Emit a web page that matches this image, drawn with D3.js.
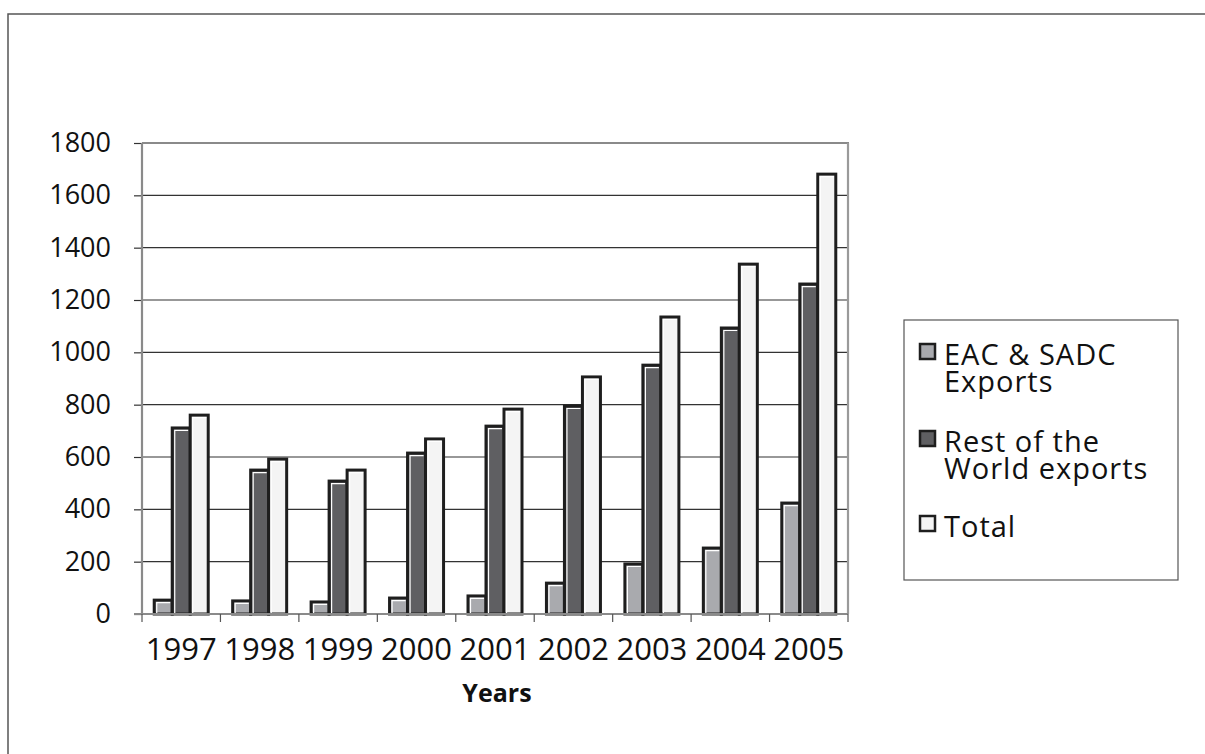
<!DOCTYPE html>
<html>
<head>
<meta charset="utf-8">
<script src="https://cdn.jsdelivr.net/npm/d3@7"></script>
<style>
  html, body { margin: 0; padding: 0; background: #fff; }
  svg { display: block; }
  text { font-family: "Open Sans", "DejaVu Sans", sans-serif; fill: #111; }
</style>
</head>
<body>
<svg id="chart" width="1205" height="754"></svg>
<script>
// ---- data ----
const years = ["1997","1998","1999","2000","2001","2002","2003","2004","2005"];
const eacSadc = [53, 50, 46, 61, 69, 118, 191, 252, 424];
const restOfWorld = [711, 550, 508, 615, 718, 795, 951, 1093, 1261];
const total = [760, 592, 550, 669, 783, 906, 1135, 1337, 1681];
const yTicks = [0, 200, 400, 600, 800, 1000, 1200, 1400, 1600, 1800];
const seriesNames = [["EAC & SADC", "Exports"], ["Rest of the", "World exports"], ["Total"]];
const seriesColors = ["#a9aaae", "#5f5f62", "#f4f4f4"];
const xTitle = "Years";

// ---- layout ----
const svg = d3.select("#chart");
const L = 142, R = 848, T = 143, B = 614;

// outer frame
svg.append("rect").attr("x", 8).attr("y", 14).attr("width", 1210).attr("height", 800)
  .attr("fill", "none").attr("stroke", "#555").attr("stroke-width", 1.5);

const x = d3.scaleBand().domain(years).range([L, R]).paddingInner(0).paddingOuter(0);
const y = d3.scaleLinear().domain([0, 1800]).range([B, T]);

// y axis ticks + labels
const yAxis = d3.axisLeft(y).tickValues(yTicks).tickSize(8).tickPadding(23).tickFormat(d3.format("d"));
const gy = svg.append("g").attr("transform", `translate(${L},0)`).call(yAxis);
gy.select(".domain").remove();
gy.selectAll(".tick line").attr("stroke", "#333").attr("stroke-width", 1.2);
gy.selectAll(".tick text").style("font-size", "27px").attr("fill", "#111")
  .attr("font-family", "Open Sans, DejaVu Sans, sans-serif");

// gridlines
svg.append("g").selectAll("line").data(yTicks.filter(d => d > 0 && d < 1800)).join("line")
  .attr("x1", L).attr("x2", R).attr("y1", d => y(d)).attr("y2", d => y(d))
  .attr("stroke", "#333").attr("stroke-width", 1.2);

// frame top and right (gray)
svg.append("line").attr("x1", L).attr("x2", R + 1).attr("y1", y(1800)).attr("y2", y(1800))
  .attr("stroke", "#8a8a8a").attr("stroke-width", 2.2);
svg.append("line").attr("x1", R).attr("x2", R).attr("y1", y(1800)).attr("y2", y(0))
  .attr("stroke", "#9a9a9a").attr("stroke-width", 2.2);
// left axis line
svg.append("line").attr("x1", L).attr("x2", L).attr("y1", y(1800)).attr("y2", y(0))
  .attr("stroke", "#8a8a8a").attr("stroke-width", 2.2);

// bars
const series = [eacSadc, restOfWorld, total];
const barW = 18, step = 18;
series.forEach((vals, si) => {
  const g = svg.append("g");
  const bx = (d, i) => x(years[i]) + x.bandwidth() / 2 - 27 + step * si;
  g.selectAll("rect").data(vals).join("rect")
    .attr("x", (d, i) => bx(d, i))
    .attr("y", d => y(d))
    .attr("width", barW)
    .attr("height", d => y(0) - y(d))
    .attr("fill", seriesColors[si])
    .attr("stroke", "#1e1e1e").attr("stroke-width", 3);
  // bevel highlight
  g.selectAll("path").data(vals).join("path")
    .attr("d", (d, i) => {
      const x0 = bx(d, i) + 2.5, y0 = y(d) + 2.5;
      return `M${x0},${y(0) - 1}V${y0}H${bx(d, i) + barW - 2}`;
    })
    .attr("fill", "none").attr("stroke", "#fff").attr("stroke-width", 1.2);
});

// bottom axis
const xAxis = d3.axisBottom(x).tickSize(0).tickPadding(24);
const gx = svg.append("g").attr("transform", `translate(0,${B})`).call(xAxis);
gx.select(".domain").attr("stroke", "#8a8a8a").attr("stroke-width", 2).attr("d", `M${L - 8},0H${R}`);
gx.selectAll(".tick text").style("font-size", "31px").attr("fill", "#111")
  .attr("font-family", "Open Sans, DejaVu Sans, sans-serif");
// category boundary ticks
svg.append("g").selectAll("line").data(years.concat(["end"])).join("line")
  .attr("x1", (d, i) => i < years.length ? x(d) : R)
  .attr("x2", (d, i) => i < years.length ? x(d) : R)
  .attr("y1", B).attr("y2", B + 8)
  .attr("stroke", "#555").attr("stroke-width", 1.2);

// x title
svg.append("text").attr("x", (L + R) / 2 + 2).attr("y", 702).attr("text-anchor", "middle")
  .style("font-size", "25px").style("font-weight", "bold").text(xTitle);

// legend
svg.append("rect").attr("x", 904).attr("y", 320).attr("width", 274).attr("height", 260)
  .attr("fill", "#fff").attr("stroke", "#555").attr("stroke-width", 1.2);
const legendBase = [365, 452, 537];
seriesNames.forEach((lines, i) => {
  svg.append("rect").attr("x", 920).attr("y", legendBase[i] - 21).attr("width", 15).attr("height", 15)
    .attr("fill", seriesColors[i]).attr("stroke", "#1e1e1e").attr("stroke-width", 2.5);
  const t = svg.append("text").attr("x", 944).attr("y", legendBase[i])
    .style("font-size", "29px").style("letter-spacing", "1px");
  lines.forEach((ln, j) => {
    t.append("tspan").attr("x", 944).attr("dy", j === 0 ? 0 : 27).text(ln);
  });
});
</script>
</body>
</html>
